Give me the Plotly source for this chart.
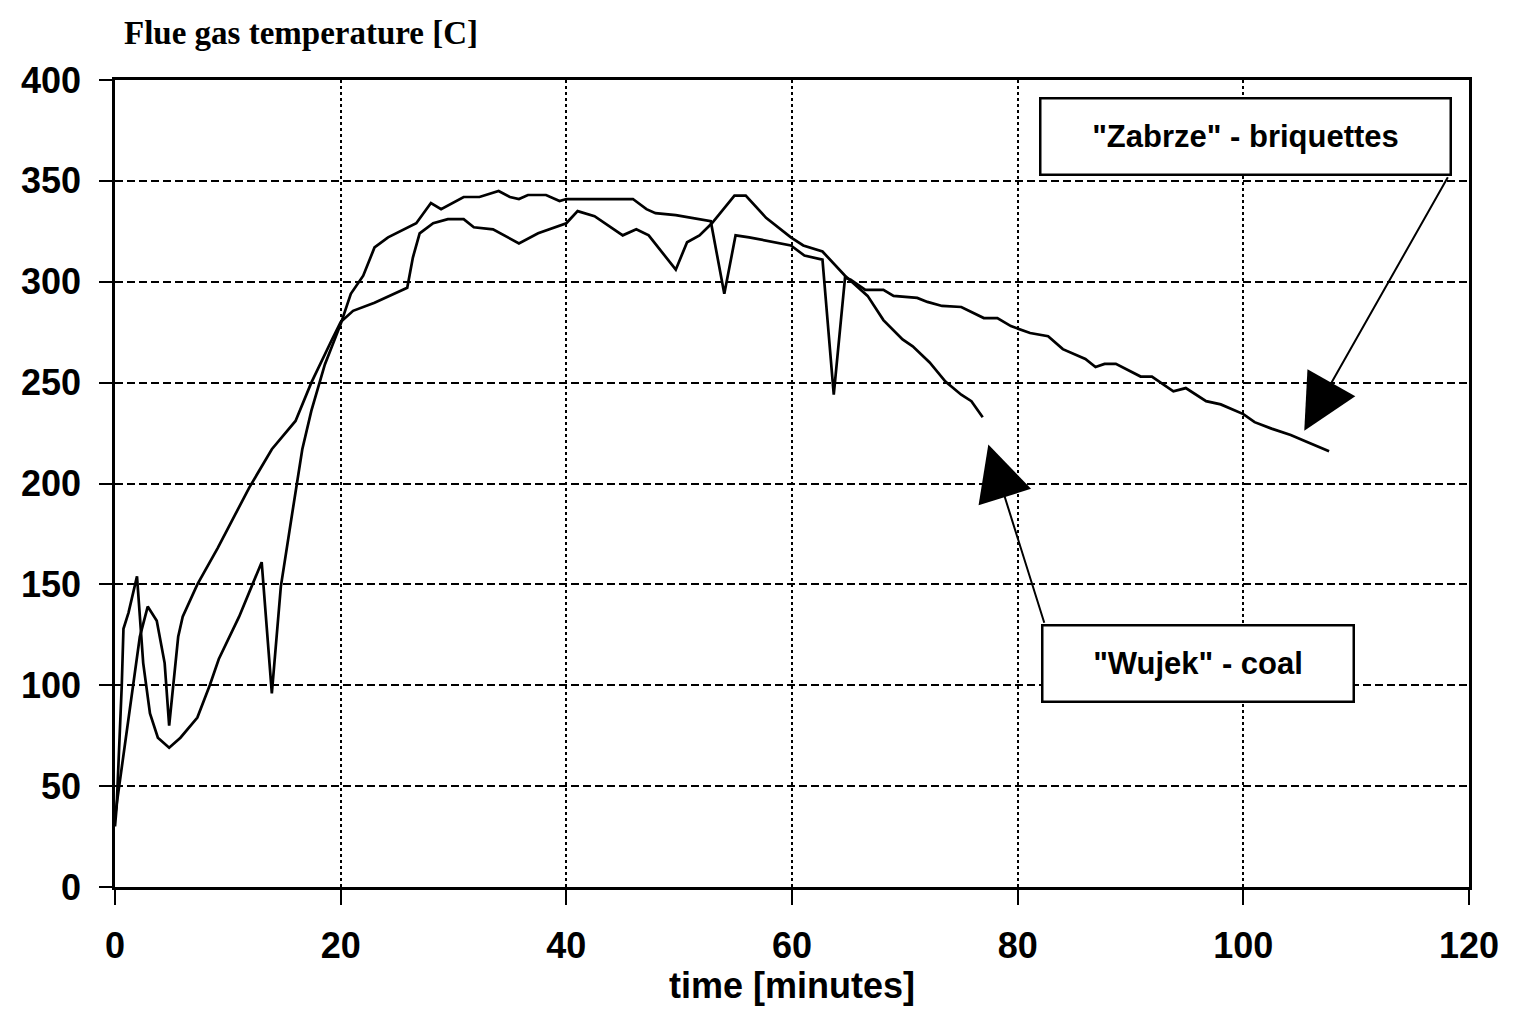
import plotly.graph_objects as go

# "Zabrze" - briquettes (long run, ends ~108 min)
zabrze_t = [0, 0.15, 0.6, 0.75, 1.2, 1.95, 2.5, 3.1, 3.8, 4.8, 5.8, 7.3, 8.4, 9.2, 11.0, 12.5, 13.0,
            13.9, 14.7, 15.7, 16.6, 17.4, 18.6, 20.0, 20.9, 22.0, 23.0, 24.2, 26.7, 28.0, 28.9, 30.9,
            32.3, 34.0, 35.0, 35.8, 36.6, 38.2, 39.4, 40.0, 45.9, 47.1, 47.9, 49.7, 52.8, 54.0, 55.0,
            56.2, 59.9, 61.1, 62.7, 63.7, 64.7, 65.2, 66.5, 68.1, 69.0, 71.1, 72.0, 73.3, 75.0, 77.0,
            78.2, 79.4, 81.1, 82.7, 84.0, 86.0, 86.9, 87.7, 88.7, 90.9, 91.9, 93.8, 94.9, 96.7, 98.0,
            100.0, 101.0, 102.5, 104.2, 105.6, 107.6]
zabrze_v = [30, 40, 100, 128, 136, 154, 111, 86, 74, 69, 74, 84, 100, 113, 134, 155, 161,
            96, 149, 185, 217, 236, 259, 279, 294, 303, 317, 322, 329, 339, 336, 342,
            342, 345, 342, 341, 343, 343, 340, 341, 341, 336, 334, 333, 330, 294, 323,
            322, 318, 313, 311, 244, 302, 301, 296, 296, 293, 292, 290, 288, 287.5, 282,
            282, 278, 274.6, 273, 266.6, 261.7, 257.7, 259.3, 259.3, 253, 253, 245.7, 247.3, 240.8, 239.2,
            234.4, 230.4, 227.2, 224, 220.7, 216]

# "Wujek" - coal (ends ~77 min)
wujek_t = [0, 0.3, 2.2, 2.9, 3.7, 4.4, 4.8, 5.6, 6.0, 7.3, 9.1, 11.9, 13.9, 16.0, 17.4, 19.2, 20.0,
           21.1, 23.0, 25.9, 26.4, 27.0, 28.2, 29.5, 30.9, 31.8, 33.5, 35.8, 37.5, 40.0, 41.0, 42.5,
           45.0, 46.2, 47.3, 49.7, 50.7, 51.8, 52.9, 54.9, 55.9, 57.7, 59.9, 61.0, 62.7, 64.7, 66.7,
           68.1, 69.8, 70.7, 72.2, 73.6, 75.0, 75.9, 76.9]
wujek_v = [35, 47, 124, 139, 132, 111, 80, 124, 134, 150, 168, 198, 217, 231, 250, 271, 280,
           285.6, 289.6, 297, 312, 324, 329, 331, 331, 327, 326, 319, 324, 329, 335, 332.5,
           323, 326, 323, 306, 319.6, 323, 329, 342.7, 342.7, 331.7, 322, 318, 315, 303, 293,
           281, 271.4, 268, 260, 250.5, 244, 240.8, 232.8]

x_ticks = [0, 20, 40, 60, 80, 100, 120]
y_ticks = [0, 50, 100, 150, 200, 250, 300, 350, 400]

FONT = "Liberation Sans, Arial, sans-serif"

fig = go.Figure()
fig.add_trace(go.Scatter(x=zabrze_t, y=zabrze_v, mode="lines", name='"Zabrze" - briquettes',
                         line=dict(color="black", width=2.7)))
fig.add_trace(go.Scatter(x=wujek_t, y=wujek_v, mode="lines", name='"Wujek" - coal',
                         line=dict(color="black", width=2.7)))

fig.update_layout(
    width=1503, height=998,
    margin=dict(l=107, r=28, t=72, b=118),
    paper_bgcolor="white", plot_bgcolor="white",
    showlegend=False,
    font=dict(family=FONT, color="black"),
)
fig.update_xaxes(
    range=[0, 120], tickvals=x_ticks, ticktext=[str(v) for v in x_ticks],
    showline=True, linecolor="black", linewidth=2.5, mirror=True,
    ticks="outside", ticklen=15, tickwidth=2, tickcolor="black",
    showgrid=True, gridcolor="black", gridwidth=2, griddash="3px,3px",
    zeroline=False,
    tickfont=dict(family=FONT, size=36, weight="bold"),
    ticklabelstandoff=10, ticklabeloverflow="allow",
    title=dict(text="time [minutes]", font=dict(family=FONT, size=36, weight="bold"), standoff=3),
)
fig.update_yaxes(
    range=[0, 400], tickvals=y_ticks, ticktext=[str(v) for v in y_ticks],
    showline=True, linecolor="black", linewidth=2.5, mirror=True,
    ticks="outside", ticklen=13, tickwidth=2, tickcolor="black",
    showgrid=True, gridcolor="black", gridwidth=2, griddash="8px,4px",
    zeroline=False,
    tickfont=dict(family=FONT, size=36, weight="bold"),
    ticklabelstandoff=11,
)

# y-axis title at top-left
fig.add_annotation(text="Flue gas temperature [C]", xref="paper", yref="paper",
                   x=0.005, y=1.058, xanchor="left", yanchor="middle", showarrow=False,
                   font=dict(family="Liberation Serif, Times New Roman, serif", size=33, weight="bold"))

# label boxes
fig.add_annotation(text='"Zabrze" - briquettes', x=100.2, y=371.8, xref="x", yref="y",
                   showarrow=False, xanchor="center", yanchor="middle",
                   width=406, height=72, borderpad=1, bordercolor="black", borderwidth=2.5,
                   bgcolor="white", font=dict(family=FONT, size=31, weight="bold"))
fig.add_annotation(text='"Wujek" - coal', x=96.0, y=110.6, xref="x", yref="y",
                   showarrow=False, xanchor="center", yanchor="middle",
                   width=307, height=72, borderpad=1, bordercolor="black", borderwidth=2.5,
                   bgcolor="white", font=dict(family=FONT, size=31, weight="bold"))

# arrows
fig.add_annotation(text="", x=105.4, y=226.2, xref="x", yref="y",
                   ax=118.2, ay=352.5, axref="x", ayref="y",
                   showarrow=True, arrowhead=2, arrowsize=5.5, arrowwidth=2, arrowcolor="black", standoff=0)
fig.add_annotation(text="", x=77.4, y=219.3, xref="x", yref="y",
                   ax=82.4, ay=130.2, axref="x", ayref="y",
                   showarrow=True, arrowhead=2, arrowsize=5.5, arrowwidth=2, arrowcolor="black", standoff=0)

fig.write_html("out.html")
